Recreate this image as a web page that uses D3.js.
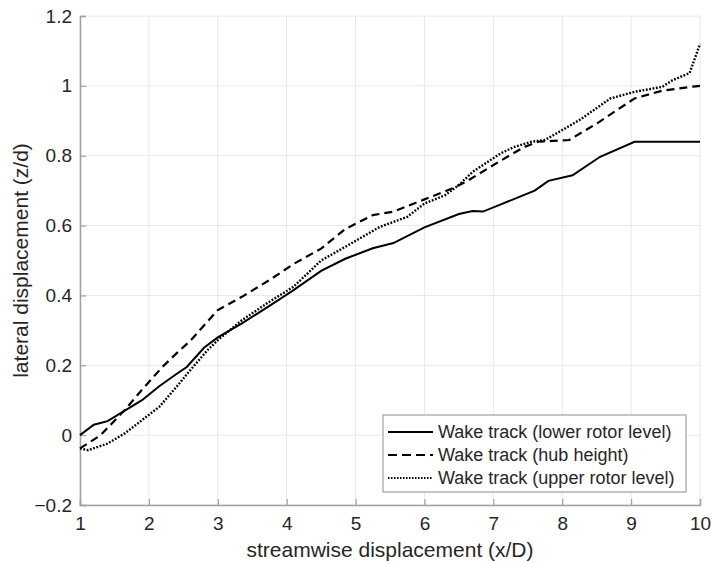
<!DOCTYPE html>
<html>
<head>
<meta charset="utf-8">
<script src="https://cdn.jsdelivr.net/npm/d3@7"></script>
<style>
  body { margin: 0; background: #fff; }
  text { font-family: "Liberation Sans", Arial, Helvetica, sans-serif; fill: #262626; }
</style>
</head>
<body>
<div id="chart"></div>
<script>
// wake track, lower rotor level
var lowerX = [1, 1.2, 1.4, 1.65, 1.9, 2.15, 2.4, 2.55, 2.8, 3.0, 3.35, 3.75, 4.1, 4.5, 4.85, 5.25, 5.55, 6.0, 6.5, 6.7, 6.85, 7.1, 7.6, 7.8, 8.15, 8.55, 9.05, 10];
var lowerY = [0, 0.03, 0.04, 0.07, 0.1, 0.14, 0.175, 0.195, 0.25, 0.28, 0.32, 0.37, 0.415, 0.47, 0.505, 0.535, 0.55, 0.595, 0.633, 0.642, 0.64, 0.66, 0.70, 0.728, 0.744, 0.797, 0.84, 0.84];

// wake track, hub height
var hubX = [1, 1.3, 1.65, 1.9, 2.2, 2.4, 2.6, 3.0, 3.35, 3.75, 4.1, 4.5, 4.85, 5.25, 5.55, 6.0, 6.4, 6.6, 7.1, 7.45, 7.65, 8.1, 8.5, 9.05, 9.45, 9.9, 10];
var hubY = [-0.038, 0, 0.072, 0.13, 0.196, 0.234, 0.27, 0.358, 0.396, 0.444, 0.49, 0.534, 0.59, 0.63, 0.64, 0.675, 0.706, 0.725, 0.785, 0.825, 0.84, 0.845, 0.892, 0.964, 0.986, 0.998, 1.0];

// wake track, upper rotor level
var upperX = [1, 1.12, 1.4, 1.65, 1.9, 2.15, 2.4, 2.6, 2.85, 3.0, 3.35, 3.75, 4.1, 4.5, 4.85, 5.35, 5.75, 6.0, 6.3, 6.5, 6.7, 7.1, 7.3, 7.55, 7.75, 8.25, 8.7, 9.05, 9.45, 9.6, 9.85, 10];
var upperY = [-0.038, -0.043, -0.024, 0.005, 0.043, 0.081, 0.138, 0.186, 0.243, 0.272, 0.329, 0.382, 0.425, 0.5, 0.539, 0.596, 0.625, 0.663, 0.687, 0.716, 0.754, 0.806, 0.825, 0.84, 0.845, 0.902, 0.964, 0.983, 0.997, 1.016, 1.037, 1.12];

var xTicks = [1, 2, 3, 4, 5, 6, 7, 8, 9, 10];
var yTicks = [-0.2, 0, 0.2, 0.4, 0.6, 0.8, 1, 1.2];
var legendLabels = ["Wake track (lower rotor level)", "Wake track (hub height)", "Wake track (upper rotor level)"];

var svgWidth = 711, svgHeight = 562;
var margin = { top: 16, left: 80, right: 11, bottom: 57 };
var width = svgWidth - margin.left - margin.right;
var height = svgHeight - margin.top - margin.bottom;

var svg = d3.select("#chart").append("svg")
  .attr("width", svgWidth)
  .attr("height", svgHeight);

var chartGroup = svg.append("g")
  .attr("transform", `translate(${margin.left}, ${margin.top})`);

var xScale = d3.scaleLinear().domain([1, 10]).range([0, width]);
var yScale = d3.scaleLinear().domain([-0.2, 1.2]).range([height, 0]);

// grid
chartGroup.append("g").selectAll("line")
  .data(xTicks).enter().append("line")
  .attr("x1", d => xScale(d)).attr("x2", d => xScale(d))
  .attr("y1", 0).attr("y2", height)
  .attr("stroke", "#e8e8e8").attr("stroke-width", 1);

chartGroup.append("g").selectAll("line")
  .data(yTicks).enter().append("line")
  .attr("x1", 0).attr("x2", width)
  .attr("y1", d => yScale(d)).attr("y2", d => yScale(d))
  .attr("stroke", "#e8e8e8").attr("stroke-width", 1);

// axes, ticks pointing inward like matlab
var xAxis = d3.axisBottom(xScale).tickValues(xTicks).tickSize(-6).tickPadding(12).tickFormat(d3.format("d"));
var yAxis = d3.axisLeft(yScale).tickValues(yTicks).tickSize(-6).tickPadding(8).tickFormat(d => d3.format("")(+d.toFixed(1)));

var gx = chartGroup.append("g")
  .attr("transform", `translate(0, ${height})`)
  .call(xAxis);
var gy = chartGroup.append("g").call(yAxis);

[gx, gy].forEach(function(g) {
  g.select(".domain").attr("stroke", "#a0a0a0").attr("stroke-width", 1.5);
  g.selectAll(".tick line").attr("stroke", "#a0a0a0").attr("stroke-width", 1.2);
  g.selectAll(".tick text").attr("font-size", "19px").attr("fill", "#262626")
    .style("font-family", "'Liberation Sans', Arial, sans-serif");
});
gx.selectAll(".tick text").attr("dy", "0.71em");

// series
var styles = [
  { x: lowerX, y: lowerY, dash: null, w: 2, legDash: null },
  { x: hubX, y: hubY, dash: "8,5", w: 2.2, legDash: "9,5" },
  { x: upperX, y: upperY, dash: "1.8,1.6", w: 2.4, legDash: "1.5,1.5" }
];

var line = d3.line()
  .x(d => xScale(d[0]))
  .y(d => yScale(d[1]));

styles.forEach(function(s) {
  var pts = s.x.map((v, i) => [v, s.y[i]]);
  chartGroup.append("path")
    .datum(pts)
    .attr("d", line)
    .attr("fill", "none")
    .attr("stroke", "#000")
    .attr("stroke-width", s.w)
    .attr("stroke-dasharray", s.dash);
});

// legend
var legend = svg.append("g").attr("transform", "translate(383, 415)");
legend.append("rect")
  .attr("width", 303).attr("height", 77)
  .attr("fill", "#fff").attr("stroke", "#a0a0a0").attr("stroke-width", 1.2);

legendLabels.forEach(function(lbl, i) {
  var yy = 17 + i * 23;
  legend.append("line")
    .attr("x1", 5).attr("x2", 50)
    .attr("y1", yy).attr("y2", yy)
    .attr("stroke", "#000").attr("stroke-width", 2)
    .attr("stroke-dasharray", styles[i].legDash);
  legend.append("text")
    .attr("x", 55).attr("y", yy)
    .attr("dy", "0.35em")
    .attr("font-size", "18px")
    .text(lbl);
});

// axis titles
svg.append("text")
  .attr("x", margin.left + width / 2)
  .attr("y", 557)
  .attr("text-anchor", "middle")
  .attr("font-size", "21px")
  .text("streamwise displacement (x/D)");

svg.append("g")
  .attr("transform", `translate(28, ${margin.top + height / 2})`)
  .append("text")
  .attr("transform", "rotate(-90)")
  .attr("text-anchor", "middle")
  .attr("font-size", "21px")
  .text("lateral displacement (z/d)");
</script>
</body>
</html>
